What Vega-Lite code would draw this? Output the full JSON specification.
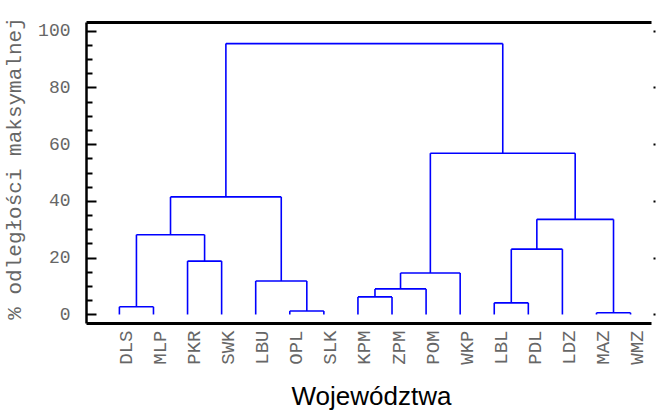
{
  "$schema": "https://vega.github.io/schema/vega-lite/v6.json",
  "width": 565,
  "height": 301,
  "autosize": "none",
  "padding": {"left": 86, "top": 22, "right": 5, "bottom": 89},
  "background": "white",
  "config": {"view": {"stroke": null}, "axis": {"grid": false}},
  "data": {
    "values": [
      {"xl": 0, "xr": 1, "hl": 0, "hr": 0, "h": 2.7},
      {"xl": 2, "xr": 3, "hl": 0, "hr": 0, "h": 18.8},
      {"xl": 0.5, "xr": 2.5, "hl": 2.7, "hr": 18.8, "h": 28.1},
      {"xl": 5, "xr": 6, "hl": 0, "hr": 0, "h": 1.2},
      {"xl": 4, "xr": 5.5, "hl": 0, "hr": 1.2, "h": 11.8},
      {"xl": 1.5, "xr": 4.75, "hl": 28.1, "hr": 11.8, "h": 41.4},
      {"xl": 7, "xr": 8, "hl": 0, "hr": 0, "h": 6.2},
      {"xl": 7.5, "xr": 9, "hl": 6.2, "hr": 0, "h": 9.0},
      {"xl": 8.25, "xr": 10, "hl": 9.0, "hr": 0, "h": 14.6},
      {"xl": 11, "xr": 12, "hl": 0, "hr": 0, "h": 4.1},
      {"xl": 11.5, "xr": 13, "hl": 4.1, "hr": 0, "h": 23.0},
      {"xl": 14, "xr": 15, "hl": 0, "hr": 0, "h": 0.6},
      {"xl": 12.25, "xr": 14.5, "hl": 23.0, "hr": 0.6, "h": 33.5},
      {"xl": 9.125, "xr": 13.375, "hl": 14.6, "hr": 33.5, "h": 56.8},
      {"xl": 3.125, "xr": 11.25, "hl": 41.4, "hr": 56.8, "h": 95.4}
    ]
  },
  "resolve": {"axis": {"x": "independent", "y": "independent"}},
  "layer": [
    {
      "mark": {"type": "rule", "color": "#0000FF", "strokeWidth": 1.6},
      "encoding": {
        "x": {
          "field": "xl", "type": "quantitative",
          "scale": {"domain": [-0.98, 15.6], "nice": false, "zero": false},
          "axis": {
            "orient": "bottom",
            "values": [0,1,2,3,4,5,6,7,8,9,10,11,12,13,14,15],
            "labelExpr": "['DLS','MLP','PKR','SWK','LBU','OPL','SLK','KPM','ZPM','POM','WKP','LBL','PDL','LDZ','MAZ','WMZ'][datum.value]",
            "labelAngle": 270,
            "labelFont": "Liberation Mono",
            "labelFontSize": 19,
            "labelColor": "#666666",
            "labelPadding": 7,
            "labelOffset": 6,
            "labelOverlap": false,
            "ticks": false,
            "domainColor": "black",
            "domainWidth": 3,
            "title": "Województwa",
            "titleFont": "Liberation Sans",
            "titleFontSize": 26,
            "titleFontWeight": "normal",
            "titleColor": "black",
            "titleX": 285,
            "titleY": 81,
            "titleBaseline": "alphabetic"
          }
        },
        "x2": {"field": "xr"},
        "y": {
          "field": "h", "type": "quantitative",
          "scale": {"domain": [-3, 103], "nice": false, "zero": false},
          "axis": {
            "orient": "left",
            "values": [0,5,10,15,20,25,30,35,40,45,50,55,60,65,70,75,80,85,90,95,100],
            "labelExpr": "datum.value % 20 === 0 ? datum.label : ''",
            "labelFont": "Liberation Mono",
            "labelFontSize": 18,
            "labelColor": "#666666",
            "labelPadding": 26,
            "labelOverlap": false,
            "tickSize": {"condition": {"test": "datum.value % 20 === 0", "value": -10}, "value": -6},
            "tickColor": "black",
            "tickWidth": 2,
            "domainColor": "black",
            "domainWidth": 2.5,
            "title": "% odległości maksymalnej",
            "titleFont": "Liberation Mono",
            "titleFontSize": 21,
            "titleFontWeight": "normal",
            "titleColor": "#666666",
            "titleAngle": 270,
            "titleX": -72,
            "titleY": 146,
            "titleBaseline": "middle",
            "titleAlign": "center"
          }
        }
      }
    },
    {
      "mark": {"type": "rule", "color": "#0000FF", "strokeWidth": 1.6},
      "encoding": {
        "x": {
          "field": "xl", "type": "quantitative",
          "axis": {"orient": "top", "ticks": false, "labels": false, "title": null, "domainColor": "black", "domainWidth": 3}
        },
        "y": {
          "field": "hl", "type": "quantitative",
          "axis": {"orient": "right", "values": [0,20,40,60,80,100], "labels": false, "domain": false, "title": null, "tickSize": 2, "tickWidth": 2, "tickColor": "black", "offset": 2}
        },
        "y2": {"field": "h"}
      }
    },
    {
      "mark": {"type": "rule", "color": "#0000FF", "strokeWidth": 1.6},
      "encoding": {
        "x": {"field": "xr", "type": "quantitative", "axis": null},
        "y": {"field": "hr", "type": "quantitative", "axis": null},
        "y2": {"field": "h"}
      }
    }
  ]
}
